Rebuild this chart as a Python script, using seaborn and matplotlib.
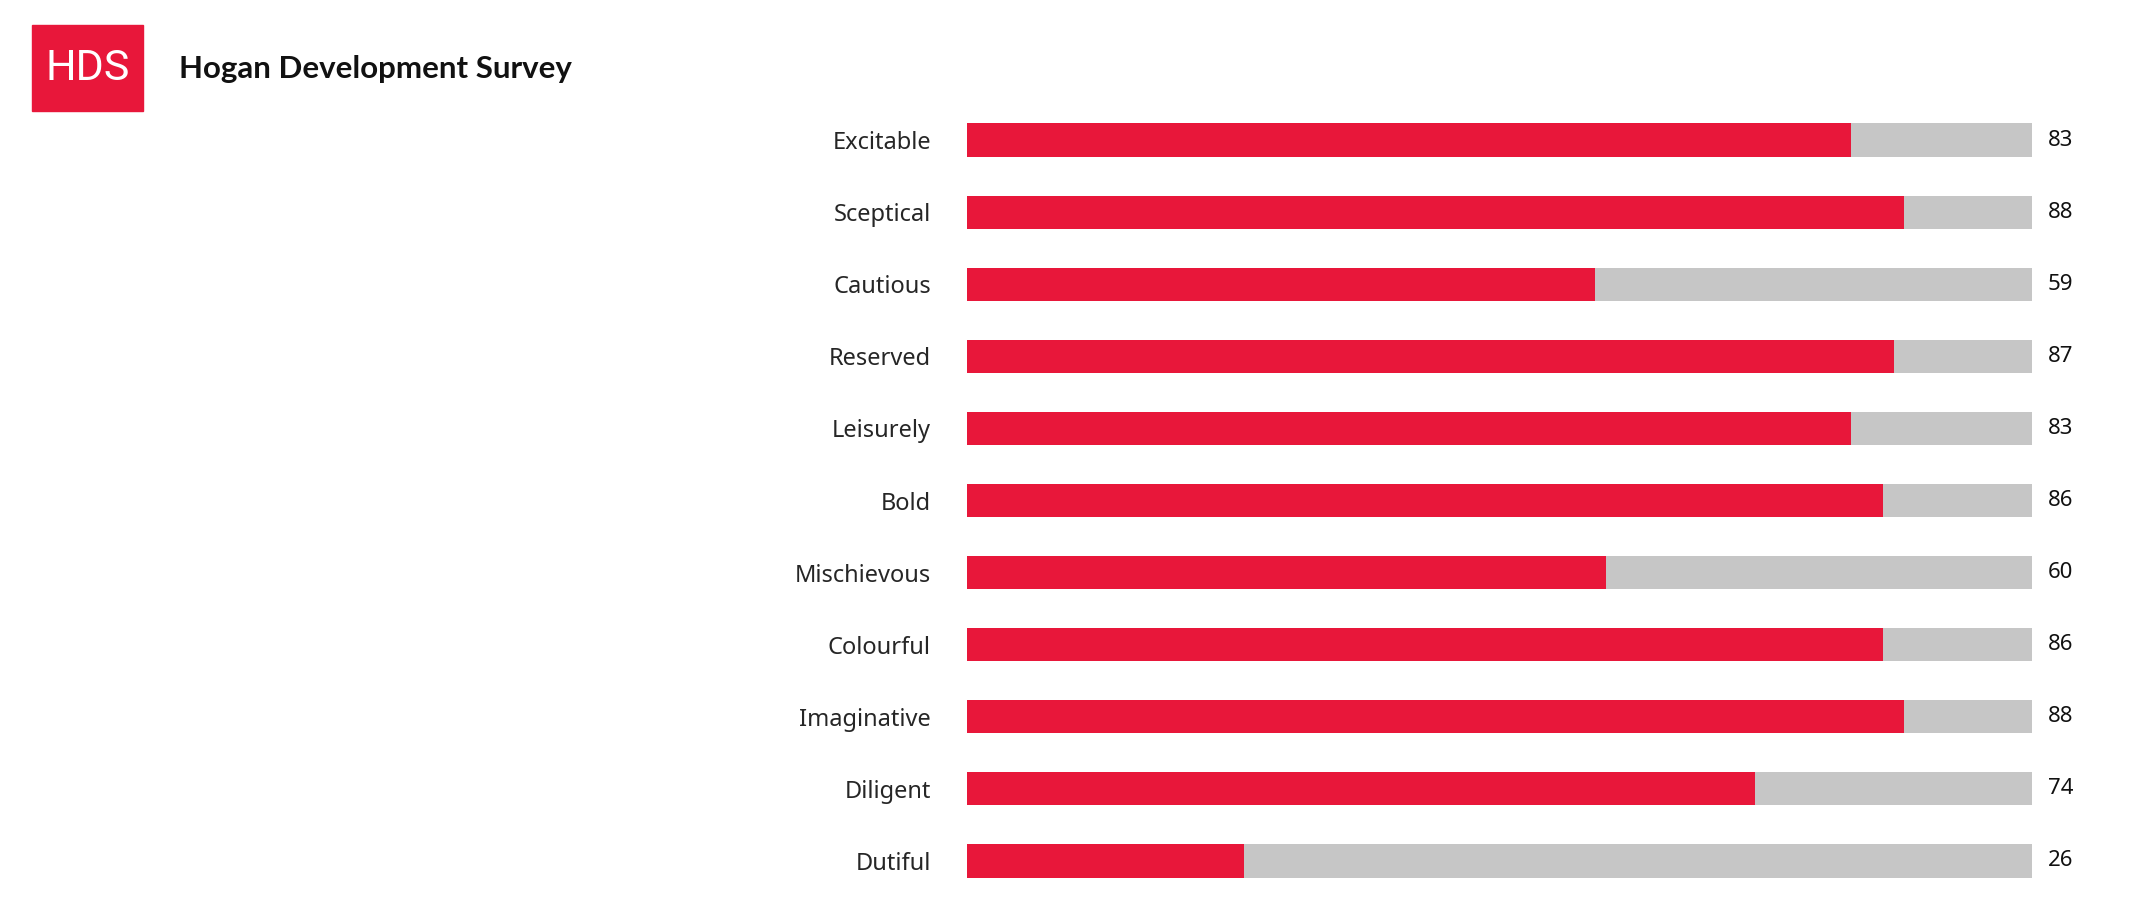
import matplotlib
matplotlib.use("Agg")
import matplotlib.pyplot as plt
import seaborn as sns
import pandas as pd
from matplotlib.patches import Rectangle

categories = ["Excitable", "Sceptical", "Cautious", "Reserved", "Leisurely", "Bold",
              "Mischievous", "Colourful", "Imaginative", "Diligent", "Dutiful"]
values = [83, 88, 59, 87, 83, 86, 60, 86, 88, 74, 26]
full = [100] * len(categories)

sns.set_theme(style="white")
plt.rcParams['font.family'] = ['Noto Sans', 'DejaVu Sans']

df = pd.DataFrame({"cat": categories, "val": values, "full": full})
fig = plt.figure(figsize=(21.56, 9.16), dpi=100)
ax = fig.add_axes([967/2156, 1-897/916, 1065/2156, 793/916])
sns.barplot(data=df, x="full", y="cat", color="#C6C6C6", width=0.46, ax=ax, saturation=1, linewidth=0)
sns.barplot(data=df, x="val", y="cat", color="#E8173A", width=0.46, ax=ax, saturation=1, linewidth=0)
ax.set_xlim(0, 100)
ax.set_ylim(10.5, -0.5)
ax.set_xlabel(""); ax.set_ylabel("")
ax.set_xticks([])
ax.tick_params(axis="y", length=0, pad=26, labelsize=17)
for s in ax.spines.values():
    s.set_visible(False)
for i, v in enumerate(values):
    ax.text(101.5, i, str(v), va="center", ha="left", fontsize=16, color="#111111")

fig.patches.append(Rectangle((32/2156, 1-111/916), 111/2156, 86/916,
                             transform=fig.transFigure, color="#E8173A", zorder=5))
fig.text(87.5/2156, 1-68/916, "HDS", color="white", fontsize=31, ha="center", va="center",
         zorder=6, family=["Roboto", "DejaVu Sans"], fontstretch="condensed")
fig.text(179/2156, 1-69/916, "Hogan Development Survey", fontsize=22.5, fontweight="bold",
         ha="left", va="center", color="#111111", family=["Lato", "DejaVu Sans"])
fig.savefig("out.png", dpi=100)
